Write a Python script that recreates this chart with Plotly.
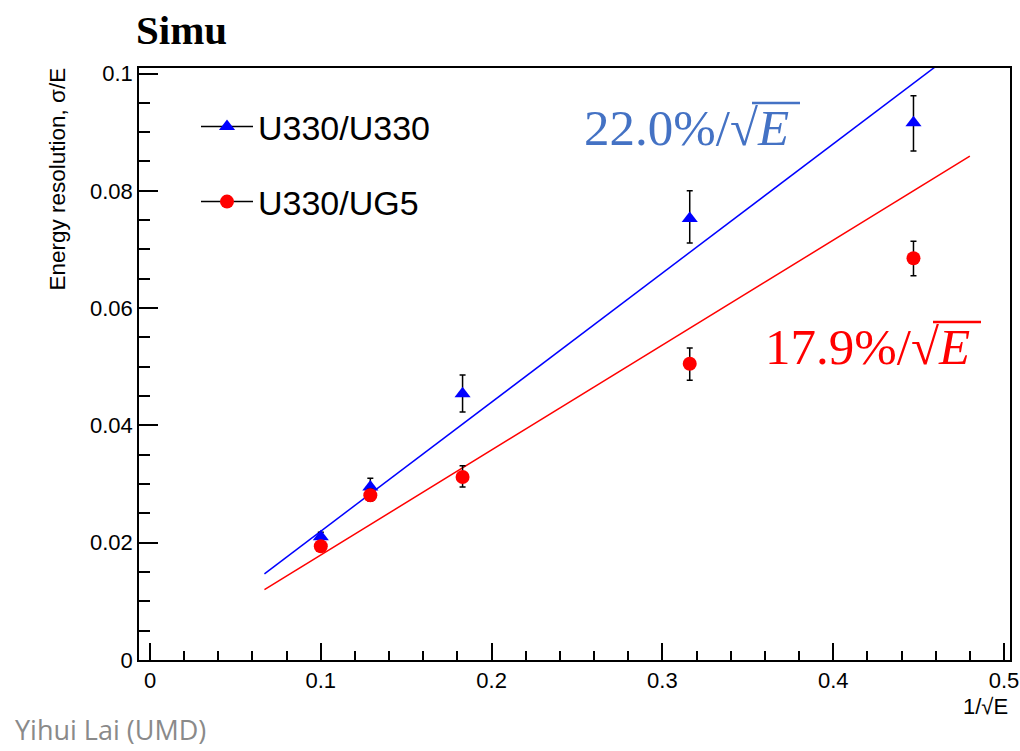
import plotly.graph_objects as go

# ---- data ----
inv_sqrt_e = [0.1, 0.129, 0.183, 0.316, 0.447]

u330_res = [0.0210, 0.0295, 0.0454, 0.0753, 0.0916]
u330_err_hi = [0.0008, 0.0015, 0.0032, 0.0047, 0.0046]
u330_err_lo = [0.0008, 0.0015, 0.0031, 0.0042, 0.0048]

ug5_res = [0.0194, 0.0281, 0.0312, 0.0505, 0.0685]
ug5_err_hi = [0.0007, 0.0010, 0.0019, 0.0027, 0.0029]
ug5_err_lo = [0.0007, 0.0010, 0.0017, 0.0028, 0.0030]

fit_x = [0.067, 0.48]
u330_fit = [0.0147, 0.1056]
ug5_fit = [0.0120, 0.0859]

x_ticks = [0, 0.1, 0.2, 0.3, 0.4, 0.5]
x_ticklabels = ["0", "0.1", "0.2", "0.3", "0.4", "0.5"]
y_ticks = [0, 0.02, 0.04, 0.06, 0.08, 0.1]
y_ticklabels = ["0", "0.02", "0.04", "0.06", "0.08", "0.1"]

BLUE = "#0000ff"
RED = "#ff0000"
ANNO_BLUE = "#4472C4"
SANS = "Liberation Sans, Arial, Helvetica, sans-serif"
SERIF = "Liberation Serif, Times New Roman, serif"

fig = go.Figure()

# fit lines
fig.add_trace(go.Scatter(x=fit_x, y=u330_fit, mode="lines",
                         line=dict(color=BLUE, width=1.5), showlegend=False, hoverinfo="skip"))
fig.add_trace(go.Scatter(x=fit_x, y=ug5_fit, mode="lines",
                         line=dict(color=RED, width=1.5), showlegend=False, hoverinfo="skip"))

# data points with error bars
fig.add_trace(go.Scatter(
    x=inv_sqrt_e, y=u330_res, mode="markers", showlegend=False,
    marker=dict(symbol="triangle-up", size=14, color=BLUE),
    error_y=dict(type="data", array=u330_err_hi, arrayminus=u330_err_lo,
                 color="black", thickness=1.5, width=3)))
fig.add_trace(go.Scatter(
    x=inv_sqrt_e, y=ug5_res, mode="markers", showlegend=False,
    marker=dict(symbol="circle", size=14, color=RED),
    error_y=dict(type="data", array=ug5_err_hi, arrayminus=ug5_err_lo,
                 color="black", thickness=1.5, width=3)))

# legend entries
fig.add_trace(go.Scatter(x=[None], y=[None], mode="lines+markers", name="U330/U330",
                         line=dict(color="black", width=1.5),
                         marker=dict(symbol="triangle-up", size=14, color=BLUE),
                         legend="legend"))
fig.add_trace(go.Scatter(x=[None], y=[None], mode="lines+markers", name="U330/UG5",
                         line=dict(color="black", width=1.5),
                         marker=dict(symbol="circle", size=14, color=RED),
                         legend="legend2"))

W, H = 1020, 751
L, R, T, B = 139, 10, 68, 91
pw, ph = W - L - R, H - T - B


def px(xp):
    return (xp - L) / pw


def py(yp):
    return (H - B - yp) / ph


legend_common = dict(font=dict(family=SANS, size=34, color="black"),
                     bgcolor="rgba(0,0,0,0)", borderwidth=0, itemwidth=52,
                     xanchor="left", yanchor="middle")

fig.update_layout(
    width=W, height=H,
    margin=dict(l=L, r=R, t=T, b=B, autoexpand=False),
    paper_bgcolor="white", plot_bgcolor="white",
    showlegend=True,
    legend=dict(x=px(196), y=py(127), **legend_common),
    legend2=dict(x=px(196), y=py(202), **legend_common),
    xaxis=dict(range=[-0.00644, 0.50351], tickvals=x_ticks, ticktext=x_ticklabels,
               ticks="inside", ticklen=17, tickwidth=1.5, tickcolor="black",
               minor=dict(dtick=0.02, tick0=0, ticks="inside", ticklen=9,
                          tickwidth=1.5, tickcolor="black"),
               showline=True, linecolor="black", linewidth=1.5, mirror=True,
               showgrid=False, zeroline=False,
               tickfont=dict(family=SANS, size=22, color="black")),
    yaxis=dict(range=[0, 0.10094], tickvals=y_ticks, ticktext=y_ticklabels,
               ticks="inside", ticklen=19, tickwidth=1.5, tickcolor="black",
               minor=dict(dtick=0.005, tick0=0, ticks="inside", ticklen=11,
                          tickwidth=1.5, tickcolor="black"),
               showline=True, linecolor="black", linewidth=1.5, mirror=True,
               showgrid=False, zeroline=False,
               tickfont=dict(family=SANS, size=22, color="black")),
    annotations=[
        dict(text="<b>Simu</b>", x=px(181), y=py(30), xref="paper", yref="paper",
             xanchor="center", yanchor="middle", showarrow=False,
             font=dict(family=SERIF, size=41, color="black")),
        dict(text="Energy resolution, σ/E", textangle=-90,
             x=px(57), y=py(66), xref="paper", yref="paper",
             xanchor="center", yanchor="top", showarrow=False,
             font=dict(family=SANS, size=22.5, color="black")),
        dict(text="1/√E", x=1.0, y=py(706), xref="paper", yref="paper",
             xanchor="right", yanchor="middle", showarrow=False,
             font=dict(family=SANS, size=22, color="black")),
        dict(text="22.0%/√<i>E</i>", x=px(582), y=py(128), xref="paper", yref="paper",
             xanchor="left", yanchor="middle", showarrow=False,
             font=dict(family=SERIF, size=51, color=ANNO_BLUE)),
        dict(text="17.9%/√<i>E</i>", x=px(763), y=py(347), xref="paper", yref="paper",
             xanchor="left", yanchor="middle", showarrow=False,
             font=dict(family=SERIF, size=51, color=RED)),
        dict(text="Yihui Lai (UMD)", x=px(13), y=py(750), xref="paper", yref="paper",
             xanchor="left", yanchor="bottom", showarrow=False,
             font=dict(family="Open Sans, sans-serif", size=27, color="#8a8a8a")),
    ],
    shapes=[
        dict(type="line", xref="paper", yref="paper",
             x0=px(752), x1=px(800), y0=py(103), y1=py(103),
             line=dict(color=ANNO_BLUE, width=2.5)),
        dict(type="line", xref="paper", yref="paper",
             x0=px(933), x1=px(981), y0=py(322), y1=py(322),
             line=dict(color=RED, width=2.5)),
    ],
)

fig.write_html("out.html")
